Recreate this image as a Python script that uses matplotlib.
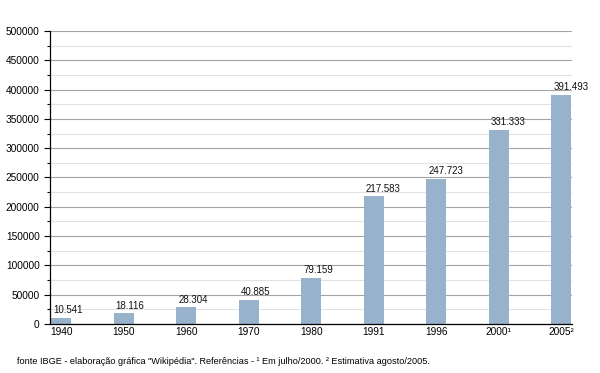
import matplotlib
matplotlib.use("Agg")
import matplotlib.pyplot as plt
from matplotlib.ticker import MultipleLocator

plt.rcParams['font.family'] = ['Liberation Sans', 'DejaVu Sans']

years = ["1940", "1950", "1960", "1970", "1980", "1991", "1996", "2000¹", "2005²"]
population = [10541, 18116, 28304, 40885, 79159, 217583, 247723, 331333, 391493]
value_labels = ["10.541", "18.116", "28.304", "40.885", "79.159", "217.583", "247.723", "331.333", "391.493"]
footer = 'fonte IBGE - elaboração gráfica "Wikipédia". Referências - ¹ Em julho/2000. ² Estimativa agosto/2005.'

fig = plt.figure(figsize=(6, 3.73), dpi=100)
ax = fig.add_axes([0.0833, 0.1314, 0.87, 0.7855])

x = list(range(len(years)))
bw = 0.32
ax.bar(x, population, width=bw, align='edge', color='#98b2cc', zorder=3)
for xi, v, lab in zip(x, population, value_labels):
    ax.text(xi + 0.03, v + 4500, lab, ha='left', va='bottom', fontsize=7, color='#111111', zorder=4)

ax.set_xlim(-0.02, len(years) - 1 + bw + 0.01)
ax.set_ylim(0, 500000)
ax.set_xticks([xi + bw / 2 for xi in x])
ax.set_xticklabels(years, fontsize=7.3)
ax.tick_params(axis='x', length=0, pad=2)
ax.yaxis.set_major_locator(MultipleLocator(50000))
ax.yaxis.set_minor_locator(MultipleLocator(25000))
ax.tick_params(axis='y', which='major', length=4.5, width=0.8, labelsize=7.3, pad=3)
ax.tick_params(axis='y', which='minor', length=2.5, width=0.8)
ax.grid(axis='y', which='major', color='#a4a4a4', linewidth=0.8, zorder=0)
ax.grid(axis='y', which='minor', color='#e2e2e2', linewidth=0.8, zorder=0)
for s in ['top', 'right']:
    ax.spines[s].set_visible(False)
ax.spines['left'].set_linewidth(0.9)
ax.spines['bottom'].set_linewidth(0.9)
ax.spines['left'].set_zorder(5)
ax.spines['bottom'].set_zorder(5)

fig.text(17 / 600, 1 - 362 / 373, footer, fontsize=6.6, ha='left', va='center')

fig.savefig("out.png", dpi=100)
